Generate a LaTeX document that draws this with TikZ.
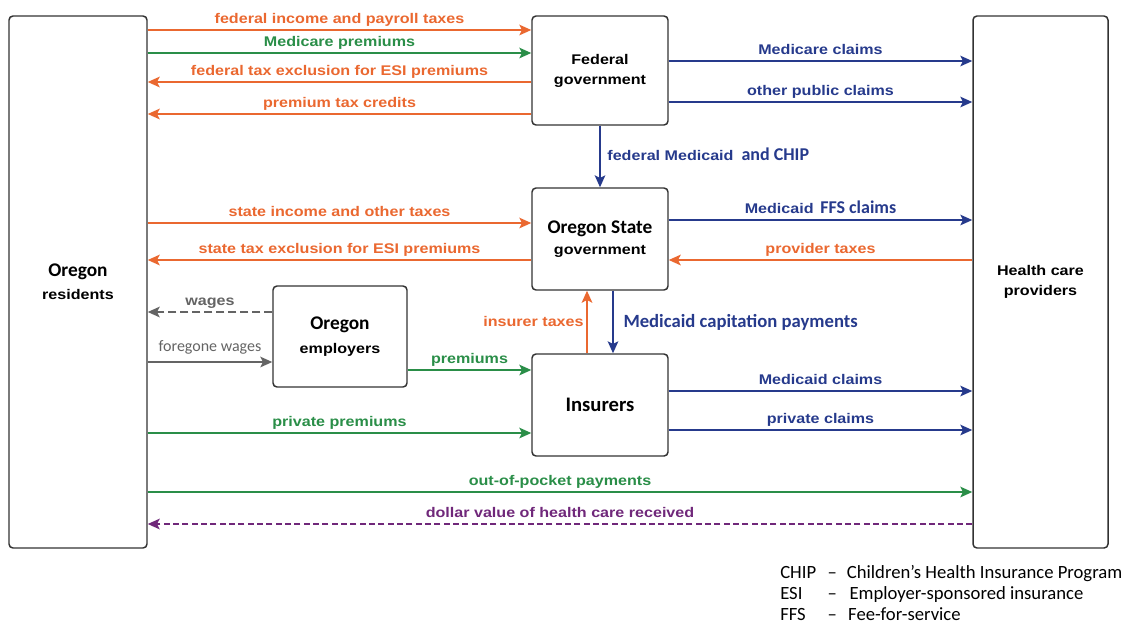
\documentclass[tikz,border=0pt]{standalone}
\usepackage{fontspec}
\setmainfont{Liberation Sans}
\newfontfamily\lblfont[FakeStretch=1.15]{Liberation Sans}
\newfontfamily\calfont{Carlito}
\usetikzlibrary{positioning, arrows.meta}
\definecolor{taxor}{RGB}{234,104,48}
\definecolor{premgr}{RGB}{42,142,72}
\definecolor{claimbl}{RGB}{38,58,140}
\definecolor{wagegy}{RGB}{100,100,100}
\definecolor{valpu}{RGB}{112,40,122}
\definecolor{boxln}{RGB}{50,50,50}
\newcommand\txfont{\lblfont\bfseries\fontsize{10.5}{13}\selectfont}
\newcommand\hdfont{\calfont\bfseries\fontsize{14.5}{17}\selectfont}

\begin{document}
\begin{tikzpicture}[x=0.75pt, y=-0.75pt,
  box/.style={draw=boxln, line width=1.1pt, rounded corners=3pt, align=center, inner sep=2pt},
  lbl/.style={font=\txfont, text height=8.5pt, text depth=2.5pt, inner sep=2pt},
  flow/.style={line width=1.1pt, -{Stealth[length=9pt, width=8pt, inset=2pt]}},
  taxarr/.style={flow, draw=taxor, text=taxor},
  premarr/.style={flow, draw=premgr, text=premgr},
  claimarr/.style={flow, draw=claimbl, text=claimbl},
  wagearr/.style={flow, draw=wagegy, text=wagegy},
  valarr/.style={flow, draw=valpu, text=valpu}]

\useasboundingbox (0,0) rectangle (1130,626);

% boxes
\node[box, minimum width=103.5pt, minimum height=399pt] at (78,282) (res) {{\hdfont Oregon}\\[5pt]{\txfont residents}};
\node[box, minimum width=102pt, minimum height=81.75pt] at (600,70.5) (fed) {{\txfont Federal}\\[3pt]{\txfont government}};
\node[box, minimum width=101.25pt, minimum height=399pt] at (1040.5,282) (prov) {{\txfont Health care}\\[3pt]{\txfont providers}};
\node[box, minimum width=102pt, minimum height=76.5pt] at (600,239) (state) {{\hdfont Oregon State}\\[4pt]{\txfont government}};
\node[box, minimum width=100.5pt, minimum height=75.75pt] at (340,336.5) (emp) {{\hdfont Oregon}\\[6pt]{\txfont employers}};
\node[box, minimum width=102pt, minimum height=76.5pt] at (600,405) (ins) {{\calfont\bfseries\fontsize{15.5}{18}\selectfont Insurers}};

% residents <-> federal
\draw[taxarr] (res.east |- 0,30) -- node[lbl, above] {federal income and payroll taxes} (fed.west |- 0,30);
\draw[premarr] (res.east |- 0,53) -- node[lbl, above] {Medicare premiums} (fed.west |- 0,53);
\draw[taxarr] (fed.west |- 0,82) -- node[lbl, above] {federal tax exclusion for ESI premiums} (res.east |- 0,82);
\draw[taxarr] (fed.west |- 0,114) -- node[lbl, above] {premium tax credits} (res.east |- 0,114);

% federal -> providers, state
\draw[claimarr] (fed.east |- 0,61) -- node[lbl, above] {Medicare claims} (prov.west |- 0,61);
\draw[claimarr] (fed.east |- 0,102) -- node[lbl, above] {other public claims} (prov.west |- 0,102);
\draw[claimarr] (fed.south) -- node[lbl, right, xshift=3pt] {federal Medicaid\hspace{6pt}{\calfont\bfseries\fontsize{13.5}{15}\selectfont and CHIP}} (state.north);

% residents <-> state
\draw[taxarr] (res.east |- 0,223) -- node[lbl, above] {state income and other taxes} (state.west |- 0,223);
\draw[taxarr] (state.west |- 0,260) -- node[lbl, above] {state tax exclusion for ESI premiums} (res.east |- 0,260);

% state <-> providers
\draw[claimarr] (state.east |- 0,220) -- node[lbl, above] {Medicaid\hspace{5pt}{\calfont\bfseries\fontsize{13.5}{15}\selectfont FFS claims}} (prov.west |- 0,220);
\draw[taxarr] (prov.west |- 0,260) -- node[lbl, above] {provider taxes} (state.east |- 0,260);

% employers
\draw[wagearr, dash pattern=on 6pt off 3pt] (emp.west |- 0,312) -- node[lbl, above] {wages} (res.east |- 0,312);
\draw[wagearr] (res.east |- 0,362) -- node[above, inner sep=5pt, font=\calfont\fontsize{12}{14}\selectfont] {foregone wages} (emp.west |- 0,362);
\draw[premarr] (emp.east |- 0,370) -- node[lbl, above] {premiums} (ins.west |- 0,370);
\draw[premarr] (res.east |- 0,433) -- node[lbl, above] {private premiums} (ins.west |- 0,433);

% state <-> insurers
\draw[taxarr] (ins.north -| 587,0) -- node[lbl, left] {insurer taxes} (state.south -| 587,0);
\draw[claimarr] (state.south -| 613,0) -- node[right, xshift=4pt, text=claimbl, font=\calfont\bfseries\fontsize{14}{16}\selectfont] {Medicaid capitation payments} (ins.north -| 613,0);

% insurers -> providers
\draw[claimarr] (ins.east |- 0,391) -- node[lbl, above] {Medicaid claims} (prov.west |- 0,391);
\draw[claimarr] (ins.east |- 0,430) -- node[lbl, above] {private claims} (prov.west |- 0,430);

% residents <-> providers
\draw[premarr] (res.east |- 0,492) -- node[lbl, above] {out-of-pocket payments} (prov.west |- 0,492);
\draw[valarr, dash pattern=on 4.5pt off 2.5pt] (prov.west |- 0,524) -- node[lbl, above] {dollar value of health care received} (res.east |- 0,524);

% legend
\node[anchor=west, align=left, inner sep=0pt, font=\calfont\fontsize{14}{16}\selectfont] at (780,593) (legend)
  {\makebox[35pt][l]{CHIP}\makebox[8pt][c]{–}\hspace{7pt}Children’s Health Insurance Program\\
   \makebox[35pt][l]{ESI}\makebox[8pt][c]{–}\hspace{9pt}Employer-sponsored insurance\\
   \makebox[35pt][l]{FFS}\makebox[8pt][c]{–}\hspace{8pt}Fee-for-service};

\end{tikzpicture}
\end{document}
